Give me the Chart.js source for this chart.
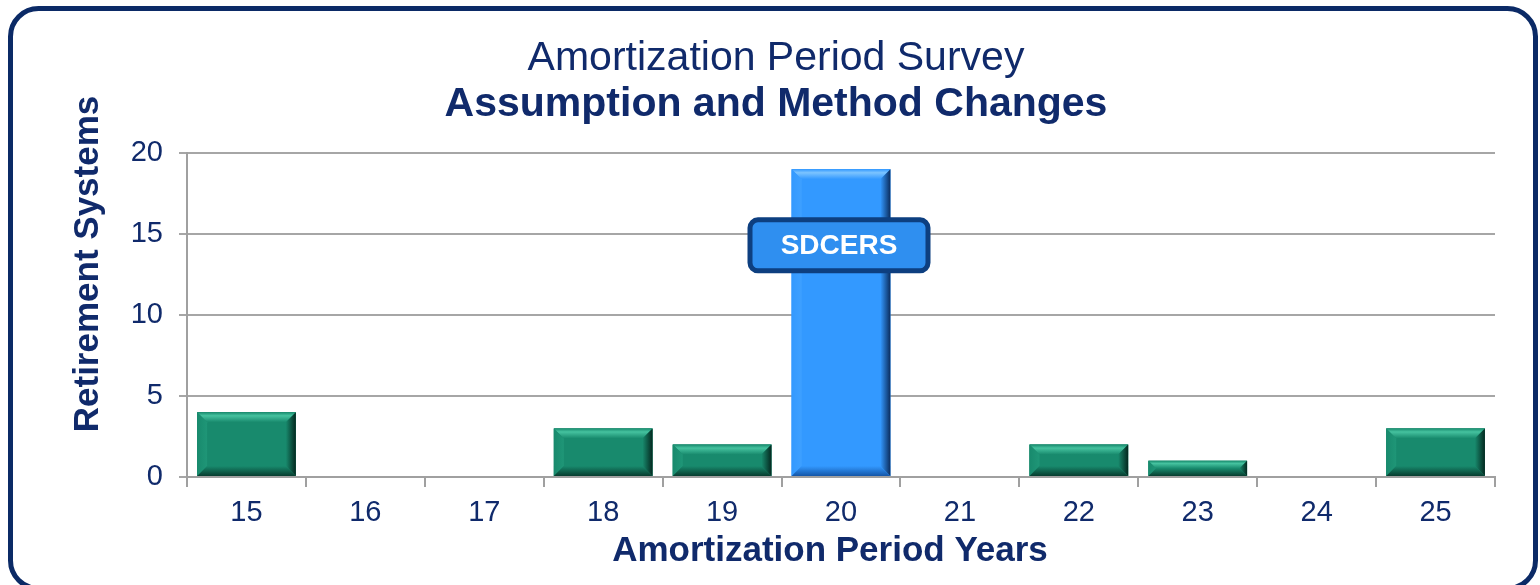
<!DOCTYPE html>
<html><head><meta charset="utf-8">
<script src="https://cdn.jsdelivr.net/npm/chart.js@4/dist/chart.umd.min.js"></script>
<style>html,body{margin:0;padding:0;background:#fff}#wrap{width:1540px;height:585px;position:relative}</style>
</head><body><div id="wrap"><canvas id="c" width="1540" height="585"></canvas></div>
<script>
const categories = ['15','16','17','18','19','20','21','22','23','24','25'];
const systems = [4, 0, 0, 3, 2, 19, 0, 2, 1, 0, 3];
const highlightCategory = '20';
const highlightLabel = 'SDCERS';
const highlightLabelValue = 14.3;
const yTicks = [0, 5, 10, 15, 20];
const yTitle = 'Retirement Systems';
const xTitle = 'Amortization Period Years';

const NAVY = '#102a6b';
const GREEN = '#188a6d';
const BLUE = '#3399ff';
const FONT = '"Liberation Sans", Arial, sans-serif';

const PAL = {
  green: { face: '#188a6d', top: '#45c29f', left: '#1f9677', right: '#04281f', bottom: '#073d2f' },
  blue:  { face: '#3399ff', top: '#7cc4ff', left: '#3ea0ff', right: '#0b2d5e', bottom: '#1456a8' }
};

const frame = {
  id: 'frame',
  afterDraw(chart) {
    const ctx = chart.ctx;
    ctx.save();
    ctx.strokeStyle = '#0b2a66';
    ctx.lineWidth = 5;
    ctx.beginPath();
    ctx.roundRect(10.5, 8.5, 1525, 580, 28);
    ctx.stroke();
    ctx.restore();
  }
};

const axisTitles = {
  id: 'axisTitles',
  afterDraw(chart) {
    const ctx = chart.ctx;
    const ca = chart.chartArea;
    ctx.save();
    ctx.fillStyle = NAVY;
    ctx.font = 'bold 35px ' + FONT;
    ctx.textAlign = 'center';
    ctx.textBaseline = 'middle';
    ctx.fillText(xTitle, (ca.left + ca.right) / 2 - 11, 551);
    ctx.translate(88, (ca.top + ca.bottom) / 2 - 51);
    ctx.rotate(-Math.PI / 2);
    ctx.fillText(yTitle, 0, 0);
    ctx.restore();
  }
};

const bevel = {
  id: 'bevel',
  afterDatasetsDraw(chart) {
    const ctx = chart.ctx;
    const meta = chart.getDatasetMeta(0);
    meta.data.forEach((el, i) => {
      const p = el.getProps(['x','y','base','width'], true);
      const h = p.base - p.y;
      if (h < 1) return;
      const c = categories[i] === highlightCategory ? PAL.blue : PAL.green;
      const L = p.x - p.width/2, R = p.x + p.width/2, T = p.y, B = p.base;
      const b = Math.min(10, h/2);
      ctx.save();
      ctx.fillStyle = c.face;
      ctx.fillRect(L, T, R-L, B-T);
      const poly = (pts, fill) => { ctx.beginPath(); ctx.moveTo(pts[0][0], pts[0][1]); for (let k=1;k<pts.length;k++) ctx.lineTo(pts[k][0], pts[k][1]); ctx.closePath(); ctx.fillStyle = fill; ctx.fill(); };
      let g;
      g = ctx.createLinearGradient(0, T, 0, T+b); g.addColorStop(0, c.face); g.addColorStop(0.35, c.top); g.addColorStop(1, c.face);
      poly([[L,T],[R,T],[R-b,T+b],[L+b,T+b]], g);
      g = ctx.createLinearGradient(L, 0, L+b, 0); g.addColorStop(0, c.face); g.addColorStop(1, c.left);
      poly([[L,T],[L+b,T+b],[L+b,B-b],[L,B]], g);
      g = ctx.createLinearGradient(R-b, 0, R, 0); g.addColorStop(0, c.face); g.addColorStop(1, c.right);
      poly([[R,T],[R,B],[R-b,B-b],[R-b,T+b]], g);
      g = ctx.createLinearGradient(0, B-b, 0, B); g.addColorStop(0, c.face); g.addColorStop(1, c.bottom);
      poly([[L,B],[L+b,B-b],[R-b,B-b],[R,B]], g);
      ctx.restore();
    });
    const idx = categories.indexOf(highlightCategory);
    const el = meta.data[idx];
    const cx = el.x - 2;
    const cy = chart.scales.y.getPixelForValue(highlightLabelValue);
    const w = 178, hh = 51;
    ctx.save();
    ctx.beginPath();
    ctx.roundRect(cx - w/2, cy - hh/2, w, hh, 8);
    ctx.fillStyle = '#2f8ff0';
    ctx.fill();
    ctx.lineWidth = 5;
    ctx.strokeStyle = '#0d3f80';
    ctx.stroke();
    ctx.fillStyle = '#ffffff';
    ctx.font = 'bold 28px ' + FONT;
    ctx.textAlign = 'center';
    ctx.textBaseline = 'middle';
    ctx.fillText(highlightLabel, cx, cy + 1);
    ctx.restore();
  }
};

new Chart(document.getElementById('c'), {
  type: 'bar',
  data: {
    labels: categories,
    datasets: [{
      data: systems,
      backgroundColor: categories.map(c => c === highlightCategory ? BLUE : GREEN),
      borderWidth: 0,
      barPercentage: 0.83,
      categoryPercentage: 1.0
    }]
  },
  options: {
    responsive: false,
    animation: false,
    devicePixelRatio: 1,
    layout: { padding: { left: 57, right: 45, top: 0, bottom: 0 } },
    plugins: {
      legend: { display: false },
      tooltip: { enabled: false },
      title: {
        display: true,
        text: 'Amortization Period Survey',
        color: NAVY,
        font: { family: FONT, size: 41, weight: 'normal', lineHeight: 1 },
        padding: { top: 38, bottom: 0 }
      },
      subtitle: {
        display: true,
        text: 'Assumption and Method Changes',
        color: NAVY,
        font: { family: FONT, size: 41, weight: 'bold', lineHeight: 1 },
        padding: { top: 5, bottom: 28 }
      }
    },
    scales: {
      x: {
        grid: { display: true, drawOnChartArea: false, drawTicks: true, tickLength: 10, color: '#a0a0a0', lineWidth: 2, offset: true },
        border: { display: true, color: '#a0a0a0', width: 2 },
        ticks: { color: NAVY, font: { family: FONT, size: 29 }, padding: 9, maxRotation: 0 },
        title: { display: false },
        afterFit(scale) { scale.height = 108; }
      },
      y: {
        min: 0, max: 20,
        afterBuildTicks(scale) { scale.ticks = yTicks.map(v => ({ value: v })); },
        grid: { color: '#a6a6a6', lineWidth: 2, tickLength: 8, drawTicks: true },
        border: { display: true, color: '#a0a0a0', width: 2 },
        ticks: { color: NAVY, font: { family: FONT, size: 29 }, padding: 16 },
        title: { display: false },
        afterFit(scale) { scale.width = 130; }
      }
    }
  },
  plugins: [bevel, axisTitles, frame]
});
</script></body></html>
